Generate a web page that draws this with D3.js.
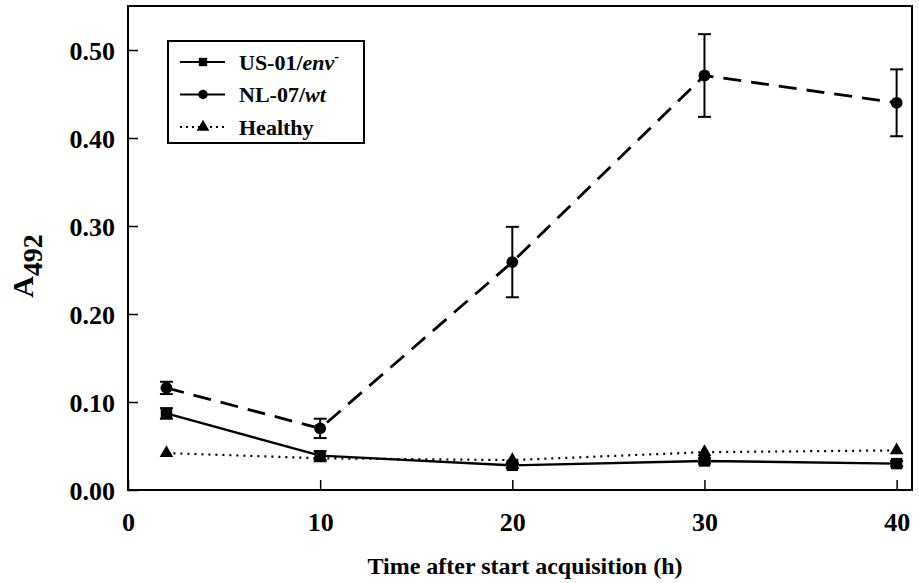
<!DOCTYPE html>
<html>
<head>
<meta charset="utf-8">
<script src="https://cdn.jsdelivr.net/npm/d3@7"></script>
<style>
	body { margin: 0; background: #fff; }
	text { font-family: "Liberation Serif", "Times New Roman", serif; font-weight: bold; fill: #000; }
</style>
</head>
<body>
<div id="chart"></div>
<script>

// data
const hours = [ 2, 10, 20, 30, 40 ];
const us01 = [ 0.087, 0.039, 0.028, 0.033, 0.030 ];
const us01_err = [ 0.006, 0.005, 0.003, 0.003, 0.003 ];
const nl07 = [ 0.116, 0.070, 0.259, 0.471, 0.440 ];
const nl07_err = [ 0.007, 0.011, 0.040, 0.047, 0.038 ];
const healthy = [ 0.042, 0.036, 0.034, 0.043, 0.045 ];

const x_ticks = [ 0, 10, 20, 30, 40 ];
const y_ticks = [ 0, 0.1, 0.2, 0.3, 0.4, 0.5 ];

///////////////////////////////////////////////////////////////////////

const W = 919, H = 583;
const plot_l = 128, plot_r = 912, plot_t = 6, plot_b = 490;

let svg = d3.select( "#chart" )
	.append( "svg" )
	.attr( "width", W )
	.attr( "height", H );

let X = d3.scaleLinear().domain( [ 0, 40.8 ] ).range( [ plot_l, plot_r ] );
let Y = d3.scaleLinear().domain( [ 0, 0.55 ] ).range( [ plot_b, plot_t ] );

// frame
svg.append( "rect" )
	.attr( "x", plot_l ).attr( "y", plot_t )
	.attr( "width", plot_r - plot_l ).attr( "height", plot_b - plot_t )
	.attr( "fill", "none" ).attr( "stroke", "#000" ).attr( "stroke-width", 2 );

let xa = svg.append( "g" )
	.attr( "transform", "translate(0," + plot_b + ")" )
	.call( d3.axisBottom( X ).tickValues( x_ticks ).tickSize( -10 ).tickPadding( 23 ).tickFormat( d3.format( "d" ) ) );

let ya = svg.append( "g" )
	.attr( "transform", "translate(" + plot_l + ",0)" )
	.call( d3.axisLeft( Y ).tickValues( y_ticks ).tickSize( -10 ).tickPadding( 13 ).tickFormat( d3.format( ".2f" ) ) );

for( let a of [ xa, ya ] )	{
	a.select( ".domain" ).remove();
	a.selectAll( "line" ).attr( "stroke", "#000" ).attr( "stroke-width", 1.5 );
	a.selectAll( "text" ).style( "font-size", "26px" ).style( "font-family", "Liberation Serif" ).style( "font-weight", "bold" );
}
ya.selectAll( "text" ).attr( "dy", "0.35em" );

// axis titles
svg.append( "text" )
	.attr( "x", 525 ).attr( "y", 574 )
	.attr( "text-anchor", "middle" )
	.style( "font-size", "24px" )
	.text( "Time after start acquisition (h)" );

let yt = svg.append( "text" )
	.attr( "transform", "translate(33,266) rotate(-90)" )
	.attr( "text-anchor", "middle" )
	.style( "font-size", "30px" );
yt.append( "tspan" ).text( "A" );
yt.append( "tspan" ).attr( "dy", 9 ).style( "font-size", "28px" ).text( "492" );

///////////////////////////////////////////////////////////////////////

function series( vals )	{
	return hours.map( ( h, i ) => [ h, vals[ i ] ] );
}

let line = d3.line().x( d => X( d[ 0 ] ) ).y( d => Y( d[ 1 ] ) );

function error_bars( vals, errs )	{
	let g = svg.append( "g" ).attr( "stroke", "#000" ).attr( "stroke-width", 2 );
	hours.forEach( ( h, i ) => {
		let x = X( h ), y0 = Y( vals[ i ] - errs[ i ] ), y1 = Y( vals[ i ] + errs[ i ] );
		g.append( "line" ).attr( "x1", x ).attr( "x2", x ).attr( "y1", y0 ).attr( "y2", y1 );
		g.append( "line" ).attr( "x1", x - 6.5 ).attr( "x2", x + 6.5 ).attr( "y1", y0 ).attr( "y2", y0 );
		g.append( "line" ).attr( "x1", x - 6.5 ).attr( "x2", x + 6.5 ).attr( "y1", y1 ).attr( "y2", y1 );
	} );
}

const sym = {
	square: d3.symbol( d3.symbolSquare, 130 ),
	circle: d3.symbol( d3.symbolCircle, 110 ),
	triangle: d3.symbol( d3.symbolTriangle, 80 )
};

function draw( vals, dash, sw, shape )	{
	svg.append( "path" )
		.datum( series( vals ) )
		.attr( "d", line )
		.attr( "fill", "none" )
		.attr( "stroke", "#000" )
		.attr( "stroke-width", sw )
		.attr( "stroke-dasharray", dash );
	svg.append( "g" ).selectAll( "path" )
		.data( series( vals ) )
		.join( "path" )
			.attr( "transform", d => "translate(" + X( d[ 0 ] ) + "," + Y( d[ 1 ] ) + ")" )
			.attr( "d", sym[ shape ] )
			.attr( "fill", "#000" );
}

draw( healthy, "2,5", 2.2, "triangle" );
error_bars( us01, us01_err );
draw( us01, null, 2.4, "square" );
error_bars( nl07, nl07_err );
draw( nl07, "18,10", 2.8, "circle" );

///////////////////////////////////////////////////////////////////////
// legend

let lg = svg.append( "g" );
lg.append( "rect" )
	.attr( "x", 168 ).attr( "y", 41 ).attr( "width", 196 ).attr( "height", 102 )
	.attr( "fill", "#fff" ).attr( "stroke", "#000" ).attr( "stroke-width", 2 );

const legend_rows = [
	{ name: "US-01/", it: "env", sup: "-", dash: null, shape: d3.symbolSquare },
	{ name: "NL-07/", it: "wt", sup: "", dash: null, shape: d3.symbolCircle },
	{ name: "Healthy", it: "", sup: "", dash: "2,4", shape: d3.symbolTriangle }
];

legend_rows.forEach( ( r, i ) => {
	let y = 62 + i * 32.5;
	lg.append( "line" )
		.attr( "x1", 180 ).attr( "x2", 225 ).attr( "y1", y ).attr( "y2", y )
		.attr( "stroke", "#000" ).attr( "stroke-width", 2 )
		.attr( "stroke-dasharray", r.dash );
	lg.append( "path" )
		.attr( "transform", "translate(203," + y + ")" )
		.attr( "d", d3.symbol( r.shape, 70 ) )
		.attr( "fill", "#000" );
	let t = lg.append( "text" )
		.attr( "x", 239 ).attr( "y", y ).attr( "dy", "0.35em" )
		.style( "font-size", "22px" );
	t.append( "tspan" ).text( r.name );
	if( r.it ) t.append( "tspan" ).style( "font-style", "italic" ).text( r.it );
	if( r.sup ) t.append( "tspan" ).attr( "dy", -9 ).style( "font-size", "14px" ).text( r.sup );
} );

</script>
</body>
</html>
